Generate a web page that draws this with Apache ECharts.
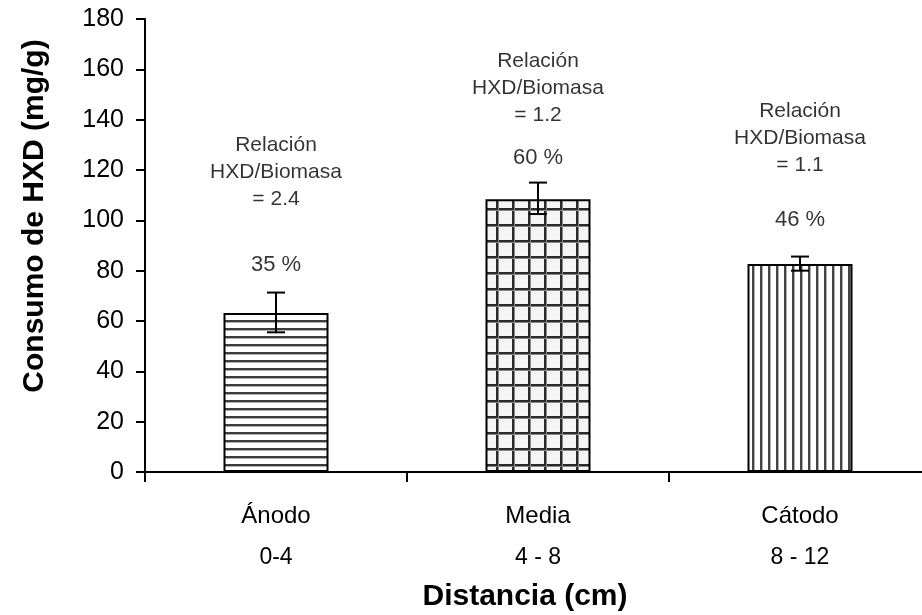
<!DOCTYPE html>
<html>
<head>
<meta charset="utf-8">
<script src="https://cdn.jsdelivr.net/npm/echarts@6/dist/echarts.min.js"></script>
<style>
  html, body { margin: 0; padding: 0; background: #fff; }
  #chart { width: 922px; height: 615px; }
</style>
</head>
<body>
<div id="chart"></div>
<script>
// datos
var categorias = ['Ánodo', 'Media', 'Cátodo'];
var distancias = ['0-4', '4 - 8', '8 - 12'];
var consumo = [63.2, 108.4, 82.6];      // mg/g
var errorBajo = [55.5, 102.5, 80.0];
var errorAlto = [71.3, 115.0, 85.6];
var porcentajes = ['35 %', '60 %', '46 %'];
var relaciones = ['2.4', '1.2', '1.1'];
// donde van los textos (en unidades del eje y)
var posPorcentaje = [82.3, 124.8, 100.1];
var posRelacion = [119.2, 152.6, 132.7];
var ticksY = { min: 0, max: 180, interval: 20 };

var fuente = '"Liberation Sans", Arial, sans-serif';

// tramas de relleno de las barras
function trama(w, h, dibujar) {
    var c = document.createElement('canvas');
    c.width = w;
    c.height = h;
    dibujar(c.getContext('2d'));
    return { image: c, repeat: 'repeat' };
}
var tramaHorizontal = trama(8, 8, function(ctx) {
    ctx.fillStyle = '#fff';
    ctx.fillRect(0, 0, 8, 8);
    ctx.fillStyle = '#3c3c3c';
    ctx.fillRect(0, 0, 8, 2);
    ctx.fillStyle = '#b0b0b0';
    ctx.fillRect(0, 2, 8, 1);
});
var tramaCuadros = trama(16, 16, function(ctx) {
    ctx.fillStyle = '#f5f5f5';
    ctx.fillRect(0, 0, 16, 16);
    ctx.fillStyle = '#e2e2e2';
    ctx.fillRect(6, 5, 1, 1);
    ctx.fillRect(11, 10, 1, 1);
    ctx.fillRect(5, 11, 1, 1);
    ctx.fillRect(11, 5, 1, 1);
    ctx.fillStyle = '#2a2a2a';
    ctx.fillRect(0, 0, 16, 2);
    ctx.fillRect(0, 0, 2, 16);
    ctx.fillStyle = '#888';
    ctx.fillRect(0, 2, 16, 1);
    ctx.fillRect(2, 0, 1, 16);
});
var tramaVertical = trama(8, 8, function(ctx) {
    ctx.fillStyle = '#fff';
    ctx.fillRect(0, 0, 8, 8);
    ctx.fillStyle = '#444';
    ctx.fillRect(0, 0, 2, 8);
    ctx.fillStyle = '#b0b0b0';
    ctx.fillRect(2, 0, 1, 8);
});
var tramas = [tramaHorizontal, tramaCuadros, tramaVertical];

var chart = echarts.init(document.getElementById('chart'));

var option = {
    animation: false,
    backgroundColor: '#fff',
    grid: {
        left: 145,
        top: 19,
        width: 786,
        height: 453,
        outerBoundsMode: 'none',
        containLabel: false
    },
    xAxis: {
        type: 'category',
        data: categorias,
        boundaryGap: true,
        name: 'Distancia (cm)',
        nameLocation: 'middle',
        nameGap: 110,
        nameTextStyle: {
            fontFamily: fuente,
            fontSize: 30,
            fontWeight: 'bold',
            color: '#000',
            padding: [0, 26, 0, 0]
        },
        axisLine: { lineStyle: { color: '#000', width: 2 } },
        axisTick: { show: true, alignWithLabel: false, length: 10, lineStyle: { color: '#000', width: 2 } },
        axisLabel: {
            margin: 23,
            formatter: function(v, i) {
                return '{a|' + v + '}\n{b|' + distancias[i] + '}';
            },
            rich: {
                a: { fontFamily: fuente, fontSize: 24, color: '#000', lineHeight: 42 },
                b: { fontFamily: fuente, fontSize: 23, color: '#000', lineHeight: 42 }
            }
        },
        splitLine: { show: false }
    },
    yAxis: {
        type: 'value',
        min: ticksY.min,
        max: ticksY.max,
        interval: ticksY.interval,
        axisLine: { show: true, lineStyle: { color: '#000', width: 2 } },
        axisTick: { show: true, length: 9, lineStyle: { color: '#000', width: 2 } },
        axisLabel: { fontFamily: fuente, fontSize: 25, color: '#000', margin: 21 },
        splitLine: { show: false }
    },
    graphic: [{
        type: 'text',
        x: 35,
        y: 216,
        rotation: Math.PI / 2,
        style: {
            text: 'Consumo de HXD (mg/g)',
            fontFamily: fuente,
            fontSize: 30,
            fontWeight: 'bold',
            fill: '#000',
            align: 'center',
            verticalAlign: 'middle'
        }
    }],
    series: [{
        type: 'bar',
        barWidth: 105,
        data: consumo.map(function(v, i) {
            return {
                value: v,
                itemStyle: { color: tramas[i], borderColor: '#000', borderWidth: 2 }
            };
        })
    }, {
        type: 'custom',
        z: 5,
        data: consumo.map(function(v, i) { return [i, errorBajo[i], errorAlto[i]]; }),
        renderItem: function(params, api) {
            var bajo = api.coord([api.value(0), api.value(1)]);
            var alto = api.coord([api.value(0), api.value(2)]);
            var m = 9;
            var estilo = { stroke: '#000', lineWidth: 2 };
            return {
                type: 'group',
                children: [
                    { type: 'line', shape: { x1: alto[0], y1: alto[1], x2: bajo[0], y2: bajo[1] }, style: estilo },
                    { type: 'line', shape: { x1: alto[0] - m, y1: alto[1], x2: alto[0] + m, y2: alto[1] }, style: estilo },
                    { type: 'line', shape: { x1: bajo[0] - m, y1: bajo[1], x2: bajo[0] + m, y2: bajo[1] }, style: estilo }
                ]
            };
        }
    }, {
        type: 'scatter',
        symbolSize: 1,
        itemStyle: { color: 'transparent' },
        silent: true,
        data: posPorcentaje.map(function(v, i) { return [i, v]; }),
        label: {
            show: true,
            position: 'inside',
            fontFamily: fuente,
            fontSize: 22,
            color: '#000',
            formatter: function(p) { return porcentajes[p.dataIndex]; }
        }
    }, {
        type: 'scatter',
        symbolSize: 1,
        itemStyle: { color: 'transparent' },
        silent: true,
        data: posRelacion.map(function(v, i) { return [i, v]; }),
        label: {
            show: true,
            position: 'inside',
            fontFamily: fuente,
            fontSize: 21,
            lineHeight: 27,
            align: 'center',
            color: '#000',
            formatter: function(p) { return 'Relación\nHXD/Biomasa\n= ' + relaciones[p.dataIndex]; }
        }
    }]
};

chart.setOption(option);
</script>
</body>
</html>
